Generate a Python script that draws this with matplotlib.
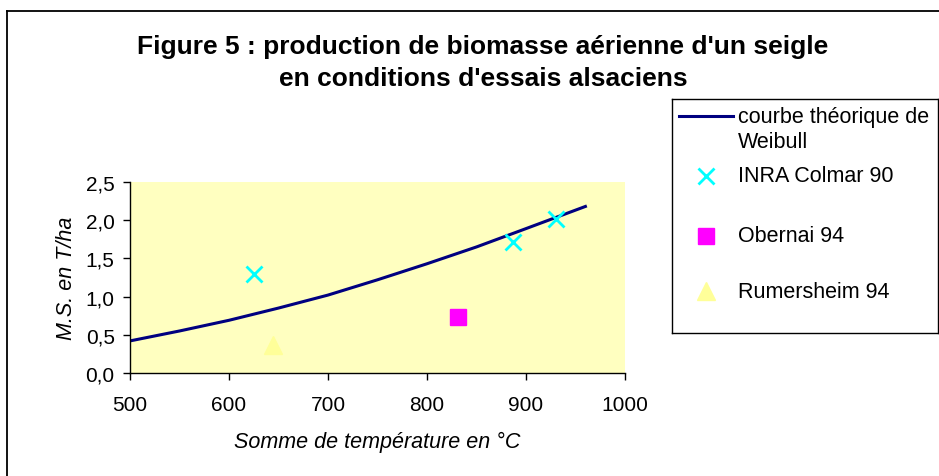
import matplotlib
matplotlib.use("Agg")
import matplotlib.pyplot as plt
from matplotlib.lines import Line2D

plt.rcParams['font.family'] = ['Liberation Sans', 'DejaVu Sans']

# Data
weibull_x = [500, 550, 600, 650, 700, 750, 800, 850, 900, 960]
weibull_y = [0.42, 0.55, 0.69, 0.85, 1.02, 1.22, 1.43, 1.65, 1.89, 2.18]
colmar_x = [625, 887, 930]
colmar_y = [1.30, 1.71, 2.01]
obernai_x = [831]
obernai_y = [0.73]
rumer_x = [644]
rumer_y = [0.37]
xticks = [500, 600, 700, 800, 900, 1000]
yticks = [0.0, 0.5, 1.0, 1.5, 2.0, 2.5]
ytick_labels = ["0,0", "0,5", "1,0", "1,5", "2,0", "2,5"]

W, H = 939, 477
fig = plt.figure(figsize=(W/100, H/100), dpi=100)
fig.patch.set_facecolor('white')

def fx(px): return px / W
def fy(py): return 1 - py / H

# Outer frame (left and top edges visible)
fig.add_artist(Line2D([fx(7), fx(7)], [fy(12), fy(480)], color='black', lw=1.3))
fig.add_artist(Line2D([fx(7), fx(945)], [fy(12), fy(12)], color='black', lw=1.3))

ax = fig.add_axes([fx(130), fy(374), fx(625) - fx(130), fy(183) - fy(374)])
ax.set_facecolor('#FFFFC0')
ax.plot(weibull_x, weibull_y, color='#000080', lw=2.2, zorder=2)
ax.plot(colmar_x, colmar_y, ls='none', marker='x', ms=12, mew=2, color='#00FFFF', zorder=3)
ax.plot(obernai_x, obernai_y, ls='none', marker='s', ms=11, color='#FF00FF', zorder=3)
ax.plot(rumer_x, rumer_y, ls='none', marker='^', ms=13, color='#FFFF99', zorder=3)

ax.set_xlim(500, 1000)
ax.set_ylim(0, 2.5)
ax.set_xticks(xticks)
ax.set_xticklabels([str(t) for t in xticks])
ax.set_yticks(yticks)
ax.set_yticklabels(ytick_labels)
for s in ['top', 'right']:
    ax.spines[s].set_visible(False)
for s in ['left', 'bottom']:
    ax.spines[s].set_color('black')
    ax.spines[s].set_linewidth(1.0)
ax.tick_params(axis='both', direction='out', length=5, width=1, labelsize=15, colors='black')
ax.tick_params(axis='x', pad=11)
ax.tick_params(axis='y', pad=6)
ax.set_xlabel("Somme de température en °C", fontsize=15.5, style='italic', labelpad=12)
ax.set_ylabel("M.S. en T/ha", fontsize=15.5, style='italic', labelpad=18 - 12)

fig.text(fx(483), fy(47), "Figure 5 : production de biomasse aérienne d'un seigle",
         ha='center', va='center', fontsize=19, fontweight='bold')
fig.text(fx(483), fy(79), "en conditions d'essais alsaciens",
         ha='center', va='center', fontsize=19, fontweight='bold')

# Legend box
lg = fig.add_axes([fx(672), fy(334), fx(938) - fx(672), fy(100) - fy(334)])
lg.set_xlim(672, 938)
lg.set_ylim(334, 100)
lg.set_xticks([]); lg.set_yticks([])
lg.set_facecolor('white')
for s in lg.spines.values():
    s.set_color('black'); s.set_linewidth(1.0)
lg.plot([679, 733], [117, 117], color='#000080', lw=2.2)
lg.plot([706], [177], marker='x', ms=12, mew=2, color='#00FFFF')
lg.plot([706], [237], marker='s', ms=11, color='#FF00FF')
lg.plot([706], [292], marker='^', ms=13, color='#FFFF99')
fs = 15.5
lg.text(738, 118, "courbe théorique de", va='center', ha='left', fontsize=fs)
lg.text(738, 143, "Weibull", va='center', ha='left', fontsize=fs)
lg.text(738, 177, "INRA Colmar 90", va='center', ha='left', fontsize=fs)
lg.text(738, 237, "Obernai 94", va='center', ha='left', fontsize=fs)
lg.text(738, 293, "Rumersheim 94", va='center', ha='left', fontsize=fs)

fig.savefig("out.png", dpi=100)
